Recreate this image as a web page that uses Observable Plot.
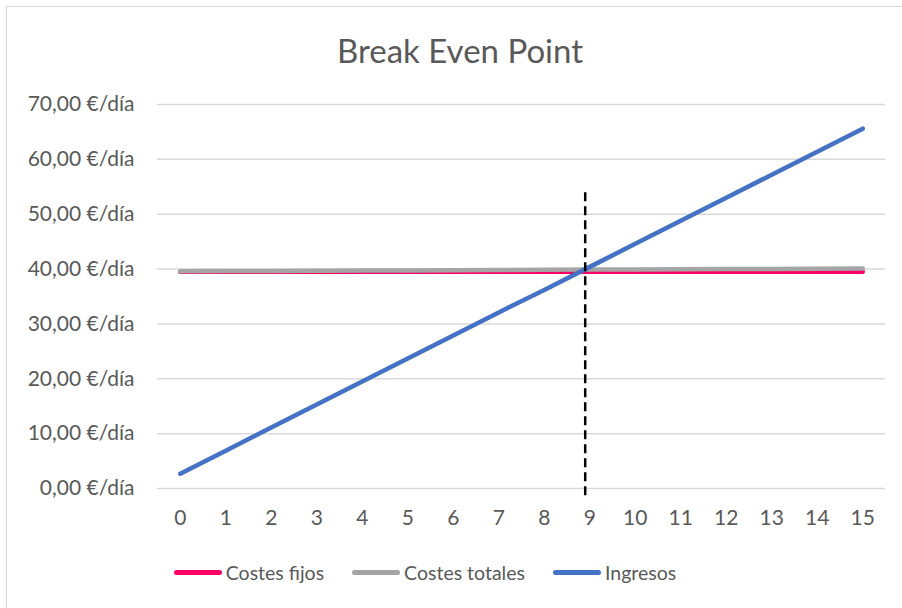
<!DOCTYPE html>
<html>
<head>
<meta charset="utf-8">
<script src="https://cdn.jsdelivr.net/npm/d3@7"></script>
<script src="https://cdn.jsdelivr.net/npm/@observablehq/plot@0.6"></script>
<style>
  html, body { margin: 0; padding: 0; background: #fff; }
  #wrap { position: relative; width: 902px; height: 608px; overflow: hidden; font-family: Lato, "Open Sans", sans-serif; color: #595959; }
  #frame { position: absolute; left: 6px; top: 6px; width: 920px; height: 640px; border: 1.5px solid #D9D9D9; box-sizing: border-box; }
  #title { position: absolute; left: 18px; top: 0; width: 884px; height: 90px; text-align: center; line-height: 100px; font-size: 33px; color: #595959; }
  #chart { position: absolute; left: 0; top: 90px; }
  #legend { position: absolute; left: 0; top: 550px; width: 902px; height: 44px; display: flex; justify-content: center; align-items: center; font-size: 19.5px; color: #595959; padding-right: 52px; box-sizing: border-box; }
  .item { display: flex; align-items: center; margin-right: 28px; }
  .item:last-child { margin-right: 0; }
  .sw { width: 48px; height: 5px; border-radius: 3px; margin-right: 4px; }
</style>
</head>
<body>
<div id="wrap">
  <div id="frame"></div>
  <div id="title">Break Even Point</div>
  <div id="chart"></div>
  <div id="legend"></div>
</div>
<script>
const units = [0,1,2,3,4,5,6,7,8,9,10,11,12,13,14,15];
const costesFijos = [39.5,39.5,39.5,39.5,39.5,39.5,39.5,39.5,39.5,39.5,39.5,39.5,39.5,39.5,39.5,39.5];
const costesTotales = [39.6,39.63,39.66,39.7,39.73,39.76,39.8,39.83,39.86,39.9,39.93,39.96,40.0,40.03,40.06,40.1];
const ingresos = [2.7,6.9,11.1,15.3,19.5,23.7,27.9,32.1,36.2,40.4,44.6,48.8,53.0,57.2,61.4,65.6];
const yTicks = [0,10,20,30,40,50,60,70];
const breakEven = [{x: 8.9, y1: -1.3, y2: 54}];
const seriesNames = ["Costes fijos", "Costes totales", "Ingresos"];
const seriesColors = ["#FF0066", "#A5A5A5", "#4472C4"];

const rows = [];
[costesFijos, costesTotales, ingresos].forEach((vals, s) => {
  units.forEach((u, i) => rows.push({serie: seriesNames[s], x: u, y: vals[i]}));
});

const fmt = v => v.toFixed(2).replace(".", ",") + " €/día";

const plot = Plot.plot({
  width: 902,
  height: 460,
  marginLeft: 157,
  marginRight: 17,
  marginTop: 14,
  marginBottom: 62,
  style: {fontFamily: "Lato, 'Open Sans', sans-serif", fontSize: "21px", color: "#595959", background: "transparent"},
  x: {domain: [-0.5, 15.5], ticks: units, tickSize: 0, tickPadding: 22, tickFormat: d => String(d), label: null},
  y: {domain: [0, 70], ticks: yTicks, tickSize: 0, tickPadding: 23, tickFormat: fmt, label: null},
  color: {domain: seriesNames, range: seriesColors},
  marks: [
    Plot.ruleY(yTicks, {stroke: "#D9D9D9", strokeWidth: 1.5}),
    Plot.line(rows.filter(d => d.serie === "Costes fijos"), {x: "x", y: "y", stroke: "serie", strokeWidth: 4.5, strokeLinecap: "round"}),
    Plot.line(rows.filter(d => d.serie === "Costes totales"), {x: "x", y: "y", stroke: "serie", strokeWidth: 4.5, strokeLinecap: "round"}),
    Plot.line(rows.filter(d => d.serie === "Ingresos"), {x: "x", y: "y", stroke: "serie", strokeWidth: 4.5, strokeLinecap: "round"}),
    Plot.ruleX(breakEven, {x: "x", y1: "y1", y2: "y2", stroke: "#000", strokeWidth: 2.5, strokeDasharray: "9,5"})
  ]
});
document.getElementById("chart").appendChild(plot);

const legend = document.getElementById("legend");
seriesNames.forEach((n, i) => {
  const it = document.createElement("div");
  it.className = "item";
  const sw = document.createElement("div");
  sw.className = "sw";
  sw.style.background = seriesColors[i];
  const t = document.createElement("span");
  t.textContent = n;
  it.appendChild(sw); it.appendChild(t);
  legend.appendChild(it);
});
</script>
</body>
</html>
